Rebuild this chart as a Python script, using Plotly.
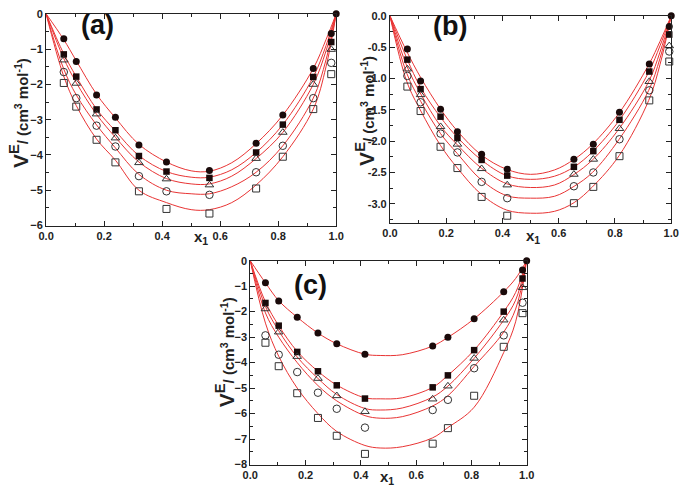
import plotly.graph_objects as go

# ---------------- data: panel (a) ----------------
x_a = [0.061, 0.104, 0.174, 0.239, 0.32, 0.415, 0.563, 0.724, 0.816, 0.921, 0.983, 1.0]
a_fc = [-0.71, -1.35, -2.30, -2.93, -3.72, -4.20, -4.44, -3.67, -2.87, -1.55, -0.56, 0.0]
a_fs = [-1.15, -1.78, -2.71, -3.30, -4.03, -4.47, -4.65, -3.93, -3.14, -1.79, -0.80]
a_ot = [-1.31, -1.97, -2.84, -3.52, -4.22, -4.68, -4.85, -4.10, -3.36, -2.00, -1.01]
a_oc = [-1.65, -2.39, -3.17, -3.76, -4.60, -5.03, -5.13, -4.49, -3.74, -2.39, -1.39]
a_os = [-1.96, -2.63, -3.57, -4.21, -5.03, -5.53, -5.66, -4.95, -4.05, -2.70, -1.71]

xc_a = [0, 0.06, 0.104, 0.174, 0.239, 0.32, 0.415, 0.5, 0.563, 0.64, 0.724, 0.816, 0.921, 0.965, 1.0]
a_c1 = [0, -0.72, -1.33, -2.28, -2.95, -3.70, -4.20, -4.45, -4.46, -4.22, -3.68, -2.87, -1.55, -0.73, 0]
a_c2 = [0, -1.12, -1.78, -2.70, -3.32, -4.02, -4.47, -4.63, -4.63, -4.42, -3.93, -3.14, -1.79, -0.90, 0]
a_c3 = [0, -1.25, -1.95, -2.85, -3.50, -4.20, -4.67, -4.82, -4.82, -4.60, -4.10, -3.36, -2.00, -1.05, 0]
a_c4 = [0, -1.55, -2.30, -3.15, -3.80, -4.55, -5.00, -5.10, -5.10, -4.90, -4.49, -3.74, -2.39, -1.30, 0]
a_c5 = [0, -1.75, -2.60, -3.55, -4.15, -5.00, -5.35, -5.55, -5.55, -5.35, -4.85, -4.05, -2.70, -1.50, 0]

# ---------------- data: panel (b) ----------------
x_b = [0.062, 0.109, 0.18, 0.24, 0.326, 0.417, 0.654, 0.723, 0.816, 0.922, 0.993, 1.0]
b_fc = [-0.53, -1.04, -1.49, -1.85, -2.21, -2.45, -2.29, -2.05, -1.54, -0.77, -0.17, 0.0]
b_fs = [-0.70, -1.17, -1.61, -1.95, -2.30, -2.55, -2.41, -2.16, -1.66, -0.89, -0.30]
b_ot = [-0.85, -1.26, -1.77, -2.05, -2.44, -2.70, -2.53, -2.29, -1.80, -1.05, -0.48]
b_oc = [-0.96, -1.38, -1.88, -2.18, -2.65, -2.91, -2.72, -2.50, -1.97, -1.19, -0.57]
b_os = [-1.13, -1.52, -2.09, -2.43, -2.89, -3.19, -2.99, -2.73, -2.24, -1.35, -0.73]

xc_b = [0, 0.06, 0.11, 0.18, 0.24, 0.325, 0.415, 0.5, 0.585, 0.655, 0.72, 0.815, 0.92, 0.96, 1.0]
b_c1 = [0, -0.57, -0.99, -1.49, -1.84, -2.22, -2.45, -2.53, -2.46, -2.29, -2.05, -1.55, -0.78, -0.41, 0]
b_c2 = [0, -0.68, -1.15, -1.62, -1.94, -2.30, -2.55, -2.61, -2.56, -2.41, -2.17, -1.67, -0.90, -0.48, 0]
b_c3 = [0, -0.80, -1.25, -1.76, -2.06, -2.43, -2.68, -2.74, -2.70, -2.53, -2.30, -1.80, -1.05, -0.58, 0]
b_c4 = [0, -0.92, -1.37, -1.88, -2.20, -2.62, -2.87, -2.91, -2.88, -2.72, -2.50, -1.97, -1.19, -0.68, 0]
b_c5 = [0, -1.05, -1.52, -2.07, -2.43, -2.85, -3.10, -3.15, -3.12, -2.98, -2.73, -2.23, -1.35, -0.78, 0]

# ---------------- data: panel (c) ----------------
x_c = [0.055, 0.103, 0.17, 0.245, 0.313, 0.415, 0.66, 0.715, 0.81, 0.917, 0.985, 1.0]
c_fc = [-0.87, -1.58, -2.22, -2.84, -3.26, -3.67, -3.35, -3.00, -2.28, -1.22, -0.37, 0.0]
c_fs = [-1.66, -2.55, -3.58, -4.34, -4.89, -5.41, -4.97, -4.50, -3.51, -2.00, -0.70]
c_ot = [-1.89, -2.80, -3.76, -4.62, -5.30, -5.92, -5.43, -4.92, -3.83, -2.33, -1.06]
c_oc = [-2.93, -3.69, -4.37, -5.18, -5.81, -6.55, -5.86, -5.46, -4.22, -2.93, -1.65]
c_os = [-3.22, -4.14, -5.20, -6.17, -6.87, -7.58, -7.18, -6.57, -5.30, -3.38, -2.06]

xc_c = [0, 0.055, 0.103, 0.17, 0.245, 0.313, 0.415, 0.47, 0.55, 0.66, 0.715, 0.81, 0.917, 0.96, 1.0]
c_c1 = [0, -0.87, -1.57, -2.22, -2.84, -3.26, -3.67, -3.72, -3.69, -3.35, -3.01, -2.28, -1.22, -0.70, 0]
c_c2 = [0, -1.62, -2.55, -3.56, -4.34, -4.88, -5.38, -5.42, -5.38, -4.97, -4.50, -3.51, -2.00, -1.25, 0]
c_c3 = [0, -1.80, -2.75, -3.78, -4.62, -5.25, -5.80, -5.86, -5.78, -5.35, -4.92, -3.83, -2.33, -1.55, 0]
c_c4 = [0, -2.05, -3.00, -4.00, -4.90, -5.50, -6.08, -6.18, -6.12, -5.70, -5.30, -4.15, -2.80, -1.90, 0]
c_c5 = [0, -2.45, -3.75, -5.00, -6.00, -6.70, -7.25, -7.35, -7.30, -6.95, -6.55, -5.75, -3.60, -2.40, 0]

x_ticks = [0.0, 0.2, 0.4, 0.6, 0.8, 1.0]
x_ticklabels = ["0.0", "0.2", "0.4", "0.6", "0.8", "1.0"]
ya_ticks = [-6, -5, -4, -3, -2, -1, 0]
yb_ticks = [-3.0, -2.5, -2.0, -1.5, -1.0, -0.5, 0.0]
yb_ticklabels = ["-3.0", "-2.5", "-2.0", "-1.5", "-1.0", "-0.5", "0.0"]
yc_ticks = [-8, -7, -6, -5, -4, -3, -2, -1, 0]
panel_labels = ["(a)", "(b)", "(c)"]

RED = "rgb(232,52,52)"
FONT = "Liberation Sans, Arial, sans-serif"

fig = go.Figure()

marker_styles = [
    dict(symbol="circle", size=7, color="#1a0a0a", line=dict(width=0)),
    dict(symbol="square", size=6.5, color="#1a0a0a", line=dict(width=0)),
    dict(symbol="triangle-up-open", size=7.5, color="#333", line=dict(width=1, color="#333")),
    dict(symbol="circle-open", size=7.5, color="#333", line=dict(width=1, color="#333")),
    dict(symbol="square-open", size=7, color="#333", line=dict(width=1, color="#333")),
]

panels = [
    ("x", "y", x_a, [a_fc, a_fs, a_ot, a_oc, a_os], xc_a, [a_c1, a_c2, a_c3, a_c4, a_c5]),
    ("x2", "y2", x_b, [b_fc, b_fs, b_ot, b_oc, b_os], xc_b, [b_c1, b_c2, b_c3, b_c4, b_c5]),
    ("x3", "y3", x_c, [c_fc, c_fs, c_ot, c_oc, c_os], xc_c, [c_c1, c_c2, c_c3, c_c4, c_c5]),
]

for xa, ya, xs, series, xcs, curves in panels:
    for cv in curves:
        fig.add_trace(go.Scatter(x=xcs, y=cv, mode="lines", xaxis=xa, yaxis=ya,
                                 line=dict(color=RED, width=1, shape="spline", smoothing=1.0),
                                 showlegend=False, hoverinfo="skip"))
    for s, ms in zip(series, marker_styles):
        fig.add_trace(go.Scatter(x=xs[:len(s)], y=s, mode="markers", xaxis=xa, yaxis=ya,
                                 marker=ms, cliponaxis=False, showlegend=False))

W, H = 689, 494

def dom_x(a, b):
    return [a / W, b / W]

def dom_y(top, bottom):
    return [1 - bottom / H, 1 - top / H]

axis_common = dict(
    showline=True, linecolor="#222", linewidth=1, mirror="allticks",
    ticks="inside", ticklen=5, tickwidth=1, tickcolor="#222",
    showgrid=False, zeroline=False,
    tickfont=dict(family=FONT, size=11, color="#222", weight="bold"),
)

fig.update_layout(
    width=W, height=H, margin=dict(l=0, r=0, t=0, b=0),
    paper_bgcolor="white", plot_bgcolor="white", showlegend=False,
    xaxis=dict(domain=dom_x(39, 336), range=[0, 1], tickvals=x_ticks, ticktext=x_ticklabels,
               minor=dict(dtick=0.1, ticks="inside", ticklen=3, tickcolor="#222"), anchor="y", **axis_common),
    yaxis=dict(domain=dom_y(8, 225), range=[-6, 0], tickvals=ya_ticks,
               minor=dict(dtick=0.5, ticks="inside", ticklen=3, tickcolor="#222"), anchor="x", **axis_common),
    xaxis2=dict(domain=dom_x(391, 679), range=[0, 1], tickvals=x_ticks, ticktext=x_ticklabels,
                minor=dict(dtick=0.1, ticks="inside", ticklen=3, tickcolor="#222"), anchor="y2", **axis_common),
    yaxis2=dict(domain=dom_y(10, 222), range=[-3.3, 0], tickvals=yb_ticks, ticktext=yb_ticklabels,
                minor=dict(dtick=0.25, ticks="inside", ticklen=3, tickcolor="#222"), anchor="x2", **axis_common),
    xaxis3=dict(domain=dom_x(248, 531), range=[0, 1], tickvals=x_ticks, ticktext=x_ticklabels,
                minor=dict(dtick=0.1, ticks="inside", ticklen=3, tickcolor="#222"), anchor="y3", **axis_common),
    yaxis3=dict(domain=dom_y(261, 470), range=[-8, 0], tickvals=yc_ticks,
                minor=dict(dtick=0.5, ticks="inside", ticklen=3, tickcolor="#222"), anchor="x3", **axis_common),
)

ytitle = ("<b>V<sup>E</sup><span style='font-size:15px'>/ (cm<sup>3</sup> mol<sup>-1</sup>)</span></b>")
ann = []
for (px, py) in [(12, 110), (366, 108), (223, 355)]:
    ann.append(dict(text=ytitle, x=px / W, y=1 - py / H, xref="paper", yref="paper",
                    showarrow=False, textangle=-90, xanchor="center", yanchor="middle",
                    font=dict(family=FONT, size=21, color="#222")))
for (px, py) in [(198, 237), (537, 236), (388, 483)]:
    ann.append(dict(text="<b>x<sub>1</sub></b>", x=px / W, y=1 - py / H, xref="paper", yref="paper",
                    showarrow=False, xanchor="center", yanchor="middle",
                    font=dict(family=FONT, size=15, color="#222")))
for lab, (px, py) in zip(panel_labels, [(92, 19), (452, 21), (310, 286)]):
    ann.append(dict(text="<b>" + lab + "</b>", x=px / W, y=1 - py / H, xref="paper", yref="paper",
                    showarrow=False, xanchor="center", yanchor="middle",
                    font=dict(family=FONT, size=27, color="#111")))
fig.update_layout(annotations=ann)

fig.write_html("out.html", config={"displayModeBar": False},
               post_script="document.body.style.margin='0';document.body.style.overflow='hidden';")
